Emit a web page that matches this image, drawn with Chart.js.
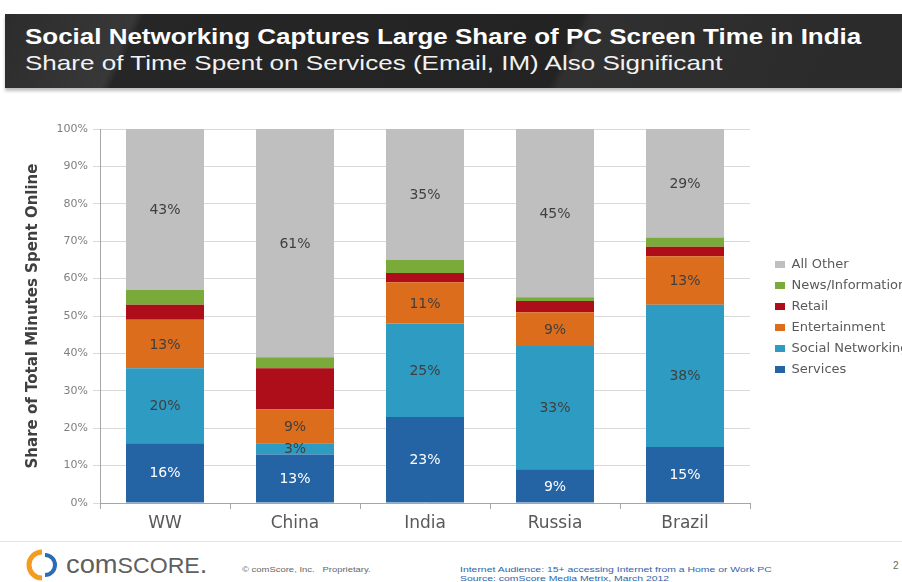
<!DOCTYPE html>
<html>
<head>
<meta charset="utf-8">
<script src="https://cdn.jsdelivr.net/npm/chart.js@4.4.1/dist/chart.umd.min.js"></script>
<style>
  html, body { margin:0; padding:0; background:#fff; width:902px; height:582px; overflow:hidden; position:relative; font-family:"Liberation Sans", Arial, sans-serif; }
  #banner { position:absolute; left:5px; top:14px; width:897px; height:74px;
    background: linear-gradient(115deg, #2c2c2c 0%, #383838 14%, #262626 15%, #232323 62%, #303030 63%, #2a2a2a 100%);
    box-shadow: 0 3px 3px rgba(0,0,0,0.25); }
  #t1 { position:absolute; left:20px; top:10px; color:#fff; font-weight:bold; font-size:22px; white-space:nowrap; transform:scaleX(1.18); transform-origin:0 0; }
  #t2 { position:absolute; left:20px; top:37px; color:#f2f2f2; font-size:21px; white-space:nowrap; transform:scaleX(1.24); transform-origin:0 0; }
  #wrap { position:absolute; left:0; top:100px; width:902px; height:440px; }
  #footline { position:absolute; left:0; top:541px; width:902px; height:1px; background:#e4e4e4; }
  #logo { position:absolute; left:26px; top:549px; }
  #logotext { position:absolute; left:66px; top:549px; font-size:26px; color:#5f5f5f; white-space:nowrap; transform:scaleX(1.05); transform-origin:0 0; }
  #logotext span { font-size:22px; }
  #copy { position:absolute; left:242px; top:566px; font-size:7px; color:#666; white-space:nowrap; transform:scaleX(1.35); transform-origin:0 0; }
  #src { position:absolute; left:460px; top:565px; font-size:7.5px; color:#2f63a8; line-height:9px; white-space:nowrap; transform:scaleX(1.39); transform-origin:0 0; }
  #pg { position:absolute; left:893px; top:560px; font-size:10px; color:#666; }
</style>
</head>
<body>
<div id="banner">
  <div id="t1">Social Networking Captures Large Share of PC Screen Time in India</div>
  <div id="t2">Share of Time Spent on Services (Email, IM) Also Significant</div>
</div>
<div id="wrap"><canvas id="c" width="902" height="440"></canvas></div>
<div id="footline"></div>
<svg id="logo" width="34" height="32" viewBox="0 0 34 32">
  <path d="M16 3 A13 13 0 0 0 16 29" fill="none" stroke="#f39c1f" stroke-width="5"/>
  <path d="M19 6 A10 10 0 0 1 19 26" fill="none" stroke="#2a6db5" stroke-width="4"/>
</svg>
<div id="logotext">com<span>SCORE</span>.</div>
<div id="copy">© comScore, Inc. &nbsp; Proprietary.</div>
<div id="src">Internet Audience: 15+ accessing Internet from a Home or Work PC<br>Source: comScore Media Metrix, March 2012</div>
<div id="pg">2</div>
<script>
const categories = ['WW', 'China', 'India', 'Russia', 'Brazil'];
const services = [16, 13, 23, 9, 15];
const socialNetworking = [20, 3, 25, 33, 38];
const entertainment = [13, 9, 11, 9, 13];
const retail = [4, 11, 2.5, 3, 2.5];
const newsInformation = [4, 3, 3.5, 1, 2.5];
const allOther = [43, 61, 35, 45, 29];
const yTicks = [0, 10, 20, 30, 40, 50, 60, 70, 80, 90, 100];

const FONT = '"DejaVu Sans", "Liberation Sans", Arial, sans-serif';

const labelPlugin = {
  id: 'segLabels',
  afterDatasetsDraw(chart) {
    const ctx = chart.ctx;
    chart.data.datasets.forEach((ds, i) => {
      if (!ds.showLabels) return;
      const meta = chart.getDatasetMeta(i);
      meta.data.forEach((el, j) => {
        const v = ds.data[j];
        ctx.save();
        ctx.font = '14px ' + FONT;
        ctx.fillStyle = ds.labelColor;
        ctx.textAlign = 'center';
        ctx.textBaseline = 'middle';
        ctx.fillText(Math.round(v) + '%', el.x, (el.y + el.base) / 2 + 1);
        ctx.restore();
      });
    });
  }
};

new Chart(document.getElementById('c'), {
  type: 'bar',
  data: {
    labels: categories,
    datasets: [
      { label: 'Services', data: services, backgroundColor: '#2463a4', showLabels: true, labelColor: '#ffffff' },
      { label: 'Social Networking', data: socialNetworking, backgroundColor: '#2e9bc2', showLabels: true, labelColor: '#3f3f3f' },
      { label: 'Entertainment', data: entertainment, backgroundColor: '#dc6d1d', showLabels: true, labelColor: '#3f3f3f' },
      { label: 'Retail', data: retail, backgroundColor: '#ad0e1a', showLabels: false },
      { label: 'News/Information', data: newsInformation, backgroundColor: '#7aab3a', showLabels: false },
      { label: 'All Other', data: allOther, backgroundColor: '#bfbfbf', showLabels: true, labelColor: '#3f3f3f' }
    ]
  },
  options: {
    responsive: false,
    animation: false,
    events: [],
    datasets: { bar: { barPercentage: 0.6, categoryPercentage: 1.0 } },
    layout: { padding: { left: 0, top: 29, right: 0, bottom: 0 } },
    plugins: {
      tooltip: { enabled: false },
      legend: {
        position: 'right',
        align: 'start',
        reverse: true,
        maxWidth: 135,
        title: { display: true, text: '', font: { size: 10 }, padding: { top: 109, bottom: 0 } },
        labels: {
          boxWidth: 10, boxHeight: 7, padding: 8,
          color: '#595959',
          font: { size: 13, family: FONT }
        }
      }
    },
    scales: {
      x: {
        stacked: true,
        grid: { drawOnChartArea: false, drawTicks: true, tickLength: 6, color: '#a6a6a6' },
        border: { color: '#a6a6a6' },
        ticks: { color: '#595959', padding: 4, font: { size: 17, family: FONT } },
        afterFit(s) { s.height = 37; }
      },
      y: {
        stacked: true, min: 0, max: 100,
        afterBuildTicks(s) { s.ticks = yTicks.map(v => ({ value: v })); },
        grid: { color: '#d9d9d9', tickLength: 7, drawTicks: true },
        border: { color: '#a6a6a6' },
        ticks: { color: '#7f7f7f', padding: 5, font: { size: 11, family: FONT }, callback: v => v + '%' },
        title: { display: true, text: 'Share of Total Minutes Spent Online', color: '#404040', padding: { top: 24, bottom: 0 }, font: { size: 15, weight: 'bold', family: FONT } },
        afterFit(s) { s.width = 100; }
      },
      yR: {
        position: 'right', min: 0, max: 1,
        grid: { display: false }, ticks: { display: false }, border: { display: false },
        afterFit(s) { s.width = 17; }
      }
    }
  },
  plugins: [labelPlugin]
});
</script>
</body>
</html>
